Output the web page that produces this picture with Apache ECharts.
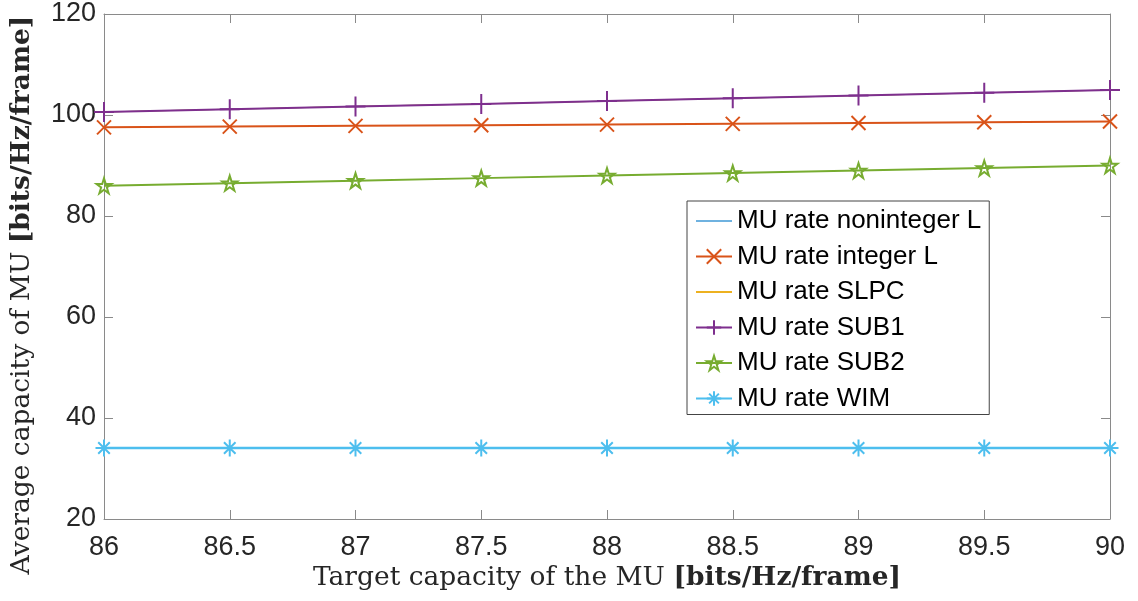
<!DOCTYPE html>
<html>
<head>
<meta charset="utf-8">
<script src="https://cdn.jsdelivr.net/npm/echarts@6/dist/echarts.min.js"></script>
<style>
html,body{margin:0;padding:0;background:#fff;}
#chart{width:1138px;height:601px;}
</style>
</head>
<body>
<div id="chart"></div>
<script>
// ---- data ----
const xValues = [86, 86.5, 87, 87.5, 88, 88.5, 89, 89.5, 90];
const seriesNames = ['MU rate noninteger L', 'MU rate integer L', 'MU rate SLPC', 'MU rate SUB1', 'MU rate SUB2', 'MU rate WIM'];
const nonintegerL = [100.6, 101.15, 101.7, 102.2, 102.75, 103.3, 103.85, 104.4, 104.95];
const integerL = [97.55, 97.7, 97.85, 97.98, 98.1, 98.25, 98.4, 98.55, 98.7];
const slpc = [100.6, 101.15, 101.7, 102.2, 102.75, 103.3, 103.85, 104.4, 104.95];
const sub1 = [100.6, 101.15, 101.7, 102.2, 102.75, 103.3, 103.85, 104.4, 104.95];
const sub2 = [86, 86.5, 87, 87.5, 88, 88.5, 89, 89.5, 90];
const wim = [34.05, 34.05, 34.05, 34.05, 34.05, 34.05, 34.05, 34.05, 34.05];
const xTitle = 'Target capacity of the MU ';
const yTitle = 'Average capacity of MU ';
const unitTitle = '[bits/Hz/frame]';

const pairs = ys => xValues.map((x, i) => [x, ys[i]]);

const SYM_X = 'path://M0,0L10,10M10,0L0,10';
const SYM_PLUS = 'path://M5,0L5,10M0,5L10,5';
const SYM_STAR = 'path://M5,0L6.123,3.455L9.755,3.455L6.816,5.59L7.939,9.045L5,6.91L2.061,9.045L3.184,5.59L0.245,3.455L3.877,3.455Z';
const SYM_AST = 'path://M5,0L5,10M0,5L10,5M1.6,1.6L8.4,8.4M8.4,1.6L1.6,8.4';

function mk(name, data, color, width, symbol, size, z) {
  return {
    name: name, type: 'line', data: pairs(data), z: z,
    color: color,
    lineStyle: {color: color, width: width},
    symbol: symbol || 'none', symbolSize: size || 0,
    showSymbol: !!symbol,
    itemStyle: {color: 'rgba(0,0,0,0)', borderColor: symbol ? color : 'rgba(0,0,0,0)', borderWidth: symbol ? 2 : 0, opacity: symbol ? 1 : 0},
    emphasis: {disabled: true}, animation: false
  };
}

const axisColor = '#8a8a8a';
const labelStyle = {color: '#262626', fontSize: 27, fontFamily: 'Liberation Sans, Arial, sans-serif'};
const titleFont = 26.5;

const chart = echarts.init(document.getElementById('chart'));
chart.setOption({
  animation: false,
  backgroundColor: '#fff',
  grid: {left: 104, right: 28, top: 14, bottom: 82},
  xAxis: [
    {type: 'value', min: 86, max: 90, interval: 0.5, position: 'bottom',
     axisLine: {lineStyle: {color: axisColor, width: 1}},
     axisTick: {inside: true, length: 9, lineStyle: {color: axisColor}},
     axisLabel: Object.assign({margin: 15}, labelStyle),
     splitLine: {show: false}},
    {type: 'value', min: 86, max: 90, interval: 0.5, position: 'top',
     axisLine: {lineStyle: {color: axisColor, width: 1}},
     axisTick: {inside: true, length: 9, lineStyle: {color: axisColor}},
     axisLabel: {show: false}, splitLine: {show: false}}
  ],
  yAxis: [
    {type: 'value', min: 20, max: 120, interval: 20, position: 'left',
     axisLine: {show: true, lineStyle: {color: axisColor, width: 1}},
     axisTick: {show: true, inside: true, length: 9, lineStyle: {color: axisColor}},
     axisLabel: Object.assign({margin: 8}, labelStyle),
     splitLine: {show: false}},
    {type: 'value', min: 20, max: 120, interval: 20, position: 'right',
     axisLine: {show: true, lineStyle: {color: axisColor, width: 1}},
     axisTick: {show: true, inside: true, length: 9, lineStyle: {color: axisColor}},
     axisLabel: {show: false}, splitLine: {show: false}}
  ],
  legend: {
    orient: 'vertical', left: 687, top: 201,
    padding: [7, 8, 3, 8], itemGap: 9.5, itemWidth: 36, itemHeight: 18,
    borderColor: '#444', borderWidth: 1, backgroundColor: '#fff',
    textStyle: {color: '#000', fontSize: 26, lineHeight: 26, fontFamily: 'Liberation Sans, Arial, sans-serif'},
    data: seriesNames
  },
  series: [
    mk(seriesNames[0], nonintegerL, '#6fb2e0', 1, null, 0, 1),
    mk(seriesNames[1], integerL, '#D95319', 2, SYM_X, 14, 3),
    mk(seriesNames[2], slpc, '#EDB120', 1, null, 0, 2),
    mk(seriesNames[3], sub1, '#7E2F8E', 2, SYM_PLUS, 20, 4),
    mk(seriesNames[4], sub2, '#77AC30', 2, SYM_STAR, 15, 5),
    mk(seriesNames[5], wim, '#4DBEEE', 2.5, SYM_AST, 17, 6)
  ],
  graphic: [
    {type: 'text', x: 607, y: 578, silent: true,
     style: {text: '{n|' + xTitle + '}{b|' + unitTitle + '}', align: 'center', verticalAlign: 'middle',
       rich: {n: {fontFamily: 'DejaVu Serif', fontSize: titleFont, fill: '#262626'},
              b: {fontFamily: 'DejaVu Serif', fontSize: titleFont, fontWeight: 'bold', fill: '#262626'}}}},
    {type: 'text', x: 22, y: 295, rotation: Math.PI / 2, silent: true,
     style: {text: '{n|' + yTitle + '}{b|' + unitTitle + '}', align: 'center', verticalAlign: 'middle',
       rich: {n: {fontFamily: 'DejaVu Serif', fontSize: titleFont, fill: '#262626'},
              b: {fontFamily: 'DejaVu Serif', fontSize: titleFont, fontWeight: 'bold', fill: '#262626'}}}}
  ]
});
</script>
</body>
</html>
